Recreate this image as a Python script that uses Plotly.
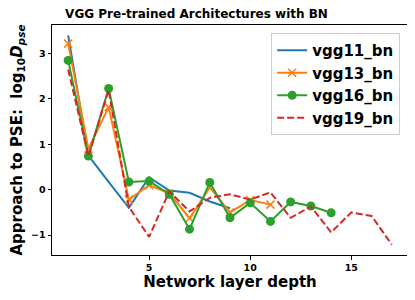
import plotly.graph_objects as go

depth11 = [1, 2, 3, 4, 5, 6, 7, 8, 9]
vgg11_bn = [3.40, 0.75, 0.17, -0.40, 0.27, -0.02, -0.07, -0.26, -0.41]

depth13 = [1, 2, 3, 4, 5, 6, 7, 8, 9, 10, 11]
vgg13_bn = [3.22, 0.90, 1.82, -0.22, 0.10, -0.08, -0.63, 0.05, -0.50, -0.23, -0.33]

depth16 = [1, 2, 3, 4, 5, 6, 7, 8, 9, 10, 11, 12, 13, 14]
vgg16_bn = [2.85, 0.74, 2.23, 0.17, 0.19, -0.10, -0.87, 0.16, -0.62, -0.29, -0.70, -0.27, -0.36, -0.51]

depth19 = [1, 2, 3, 4, 5, 6, 7, 8, 9, 10, 11, 12, 13, 14, 15, 16, 17]
vgg19_bn = [2.65, 0.74, 2.20, -0.38, -1.04, -0.04, -0.48, -0.18, -0.10, -0.22, -0.06,
            -0.62, -0.37, -0.94, -0.50, -0.58, -1.21]

x_ticks = [5, 10, 15]
y_ticks = [-1, 0, 1, 2, 3]

FONT = "DejaVu Sans"
fig = go.Figure()
fig.add_trace(go.Scatter(x=depth11, y=vgg11_bn, mode="lines", name="vgg11_bn",
                         line=dict(color="#1f77b4", width=2)))
fig.add_trace(go.Scatter(x=depth13, y=vgg13_bn, mode="lines+markers", name="vgg13_bn",
                         line=dict(color="#ff7f0e", width=2),
                         marker=dict(symbol="x-thin", size=8,
                                     line=dict(color="#ff7f0e", width=1.5))))
fig.add_trace(go.Scatter(x=depth16, y=vgg16_bn, mode="lines+markers", name="vgg16_bn",
                         line=dict(color="#2ca02c", width=2),
                         marker=dict(symbol="circle", size=9, color="#2ca02c")))
fig.add_trace(go.Scatter(x=depth19, y=vgg19_bn, mode="lines", name="vgg19_bn",
                         line=dict(color="#d62728", width=2, dash="7px,3px")))

axis_common = dict(showline=True, linecolor="black", linewidth=1, mirror=True,
                   ticks="outside", ticklen=3.5, tickwidth=0.8, tickcolor="black",
                   showgrid=False, zeroline=False, automargin=False,
                   tickfont=dict(family=FONT, size=9.5, color="black", weight="bold"))

# the page body adds an 8px offset, so the figure is 8px smaller than the window
W, H = 407, 292
fig.update_layout(
    width=W, height=H,
    margin=dict(l=44, r=7, t=17, b=45, autoexpand=False),
    plot_bgcolor="white", paper_bgcolor="white",
    title=dict(text="VGG Pre-trained Architectures with BN",
               font=dict(family=FONT, size=12, color="black", weight="bold"),
               x=188.5 / W, xanchor="center", y=1 - 6 / H, yanchor="middle",
               xref="container", yref="container"),
    xaxis=dict(range=[0.2, 17.8], tickvals=x_ticks,
               title=dict(text="Network layer depth", standoff=3,
                          font=dict(family=FONT, size=15, color="black", weight="bold")),
               **axis_common),
    yaxis=dict(range=[-1.44, 3.63], tickvals=y_ticks,
               title=dict(text="Approach to PSE:  log<sub>10</sub><i>D</i><sub><i>pse</i></sub>",
                          standoff=15,
                          font=dict(family=FONT, size=15, color="black", weight="bold")),
               **axis_common),
    legend=dict(x=0.978, xanchor="right", y=0.965, yanchor="top",
                bgcolor="white", bordercolor="#cccccc", borderwidth=1,
                font=dict(family=FONT, size=15, color="black", weight="bold")),
    showlegend=True,
)

fig.write_html("out.html")
